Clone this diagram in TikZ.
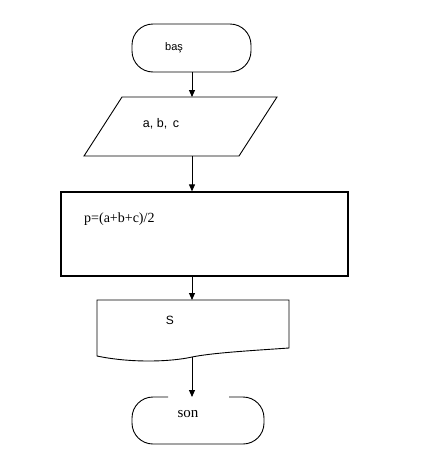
\documentclass[tikz,border=0pt]{standalone}
\usepackage{fontspec}
\setmainfont{Liberation Serif}
\newfontfamily\arialf{Liberation Sans}
\usetikzlibrary{arrows.meta}
\begin{document}
\begin{tikzpicture}[x=1pt,y=-1pt,
  outline/.style={draw, line width=0.9pt},
  thick outline/.style={draw, line width=1.25pt},
  flow/.style={-{Triangle[length=7pt,width=6pt]}, line width=0.9pt},
  sanslbl/.style={inner sep=0pt, font=\arialf\fontsize{11}{13}\selectfont},
  seriflbl/.style={inner sep=0pt, font=\fontsize{14}{16}\selectfont}]
\useasboundingbox[fill=white] (0,0) rectangle (421,469);

% start terminator
\node[outline, rounded corners=21pt, minimum width=119pt, minimum height=48pt, inner sep=0pt] (bas) at (191.5,48) {};
\node[sanslbl] (bastext) at (174,48) {baş};

% input parallelogram
\draw[outline] (122,97) -- (277,97) -- (239,156) -- (84,156) -- cycle;
\coordinate (ioT) at (192,97);
\coordinate (ioB) at (192,156);
\node[sanslbl, font=\arialf\fontsize{12.5}{14}\selectfont] (iotext) at (161,124) {a, b,\, c};

% process
\node[thick outline, minimum width=287pt, minimum height=84pt, inner sep=0pt] (calc) at (204.5,234) {};
\node[seriflbl, anchor=base west] (calctext) at (84,222) {p=(a+b+c)/2};

% document
\draw[outline] (97,300) -- (289,300) -- (289,348)
  .. controls (245,351) and (212,353) .. (192,357)
  .. controls (170,362) and (130,363) .. (97,356) -- cycle;
\coordinate (docT) at (192,300);
\coordinate (docB) at (192,357);
\node[sanslbl, font=\arialf\fontsize{12}{14}\selectfont] (doctext) at (170,320) {S};

% end terminator (with gap in top line)
\draw[outline, rounded corners=21pt] (168,397) -- (132,397) -- (132,444) -- (264,444) -- (264,397) -- (229,397);
\coordinate (sonT) at (192,397);
\node[seriflbl, font=\fontsize{15}{17}\selectfont, anchor=base] (sontext) at (188,417) {son};

% connectors
\draw[flow] (bas.south -| ioT) -- (ioT);
\draw[flow] (ioB) -- (ioB |- calc.north);
\draw[flow] (ioB |- calc.south) -- (docT);
\draw[flow] (docB) -- (sonT);
\end{tikzpicture}
\end{document}
